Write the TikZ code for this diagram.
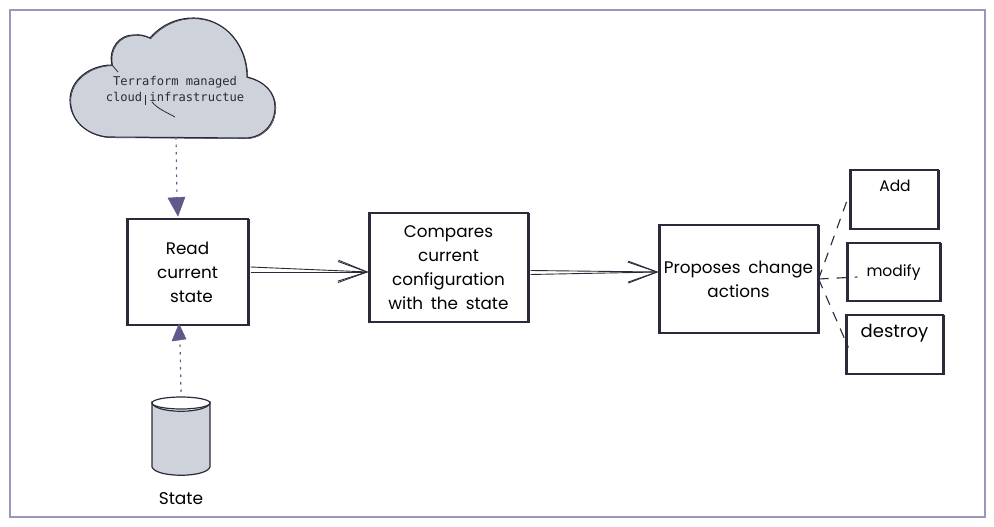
\documentclass[tikz,border=0pt]{standalone}
\usepackage{fontspec}
\setmainfont[WordSpace=1.7]{Poppins}
\newfontfamily\monof{DejaVu Sans Mono}
\usetikzlibrary{arrows.meta,calc}
\definecolor{ink}{HTML}{2B2A3A}
\definecolor{plum}{HTML}{5F5A8C}
\definecolor{framec}{HTML}{9A97BC}
\definecolor{greyfill}{HTML}{CED2DB}
\tikzset{
  x=1pt,y=-1pt,
  overdraw/.style={postaction={draw=ink,line width=.5pt,fill=none,transform canvas={xshift=.8pt,yshift=-.7pt}}},
  sketchbox/.style={draw=ink,line width=1.2pt,fill=white,inner sep=0pt,rectangle,align=center,
    font=\fontsize{16.8}{24}\selectfont,text=black,overdraw},
  hand/.style={inner sep=0pt,align=center,font=\fontsize{16.8}{24}\selectfont,text=black},
  flow/.style={draw=ink,line width=.9pt,-{Straight Barb[length=29pt,width=21pt,line width=.9pt]}},
  dotlink/.style={draw=plum,line width=1.2pt,dash pattern=on 2.5pt off 5pt},
  dashlink/.style={draw=ink,line width=1.1pt,dash pattern=on 10pt off 8pt},
  solidtip/.style={fill=plum,draw=plum,line width=.5pt},
}
\begin{document}
\begin{tikzpicture}
\useasboundingbox (0,0) rectangle (994,527);
\fill[white] (0,0) rectangle (994,527);
\draw[framec,line width=1.5pt] (10,10) rectangle (985,517);

% cloud
\draw[ink,line width=1.1pt,fill=greyfill,overdraw]
  (150,38) .. controls (162,24) and (178,18) .. (193,18)
  .. controls (225,18) and (247,45) .. (247,77)
  .. controls (264,81) and (275,92) .. (275,107)
  .. controls (275,125) and (262,138) .. (245,138)
  -- (108,137)
  .. controls (86,135) and (70,120) .. (70,100)
  .. controls (70,80) and (90,65) .. (112,65)
  .. controls (108,48) and (120,35) .. (133,35)
  .. controls (140,34) and (146,36) .. (150,38) -- cycle;
\draw[ink,line width=.8pt] (112,65) -- (118,72);
\draw[ink,line width=.5pt] (145,95) -- (145,105);
\draw[ink,line width=.8pt] (152,102) .. controls (158,109) and (166,112) .. (175,117);
\node[inner sep=0pt,align=center,font=\monof\fontsize{12.1}{16}\selectfont,text=ink] (cloudlabel) at (175,89)
  {Terraform managed\hspace{7pt}\\ cloud infrastructue};
\coordinate (cloudbot) at (176,137);

% boxes
\node[sketchbox,minimum width=121pt,minimum height=106pt] (read) at (187.5,272) {Read\\ current\\ \hspace{8pt}state};
\node[sketchbox,minimum width=159pt,minimum height=109pt] (compare) at (448.5,267.5) {Compares\\ current\\ configuration\\ with the state};
\node[sketchbox,minimum width=159pt,minimum height=108pt] (propose) at (738.5,279) {Proposes change\\ actions};
\node[sketchbox,minimum width=88pt,minimum height=59pt] (add) at (894,199.5) {};
\node[sketchbox,minimum width=93pt,minimum height=58pt] (modify) at (893.5,272) {};
\node[sketchbox,minimum width=97pt,minimum height=59pt] (destroy) at (894.5,344.5) {};
\node[hand,font=\fontsize{15.5}{24}\selectfont] (addl) at (895,186) {Add};
\node[hand,font=\fontsize{15.5}{24}\selectfont] (modifyl) at (893.5,273) {modify};
\node[hand,font=\fontsize{18}{24}\selectfont] (destroyl) at (894.5,333) {destroy};

% cylinder
\draw[ink,line width=1.2pt,fill=greyfill]
  (152,403) -- (152,467) .. controls (156,478) and (206,478) .. (210,467) -- (210,403)
  .. controls (206,414) and (156,414) .. (152,403) -- cycle;
\draw[ink,line width=1.2pt,fill=white]
  (181,403) ellipse [x radius=29pt,y radius=6pt];
\coordinate (cyltop) at (181,392);
\node[hand,font=\fontsize{17}{20}\selectfont] (statel) at (181,499) {State};

% flow arrows
\draw[flow] ($(read.east)+(2,-5)$) -- ($(compare.west)+(0,4.5)$);
\draw[flow] ($(read.east)+(2,0)$) -- ($(compare.west)+(0,4.5)$);
\draw[flow] ($(compare.east)+(2,3)$) -- ($(propose.west)+(0,-7)$);
\draw[flow] ($(compare.east)+(2,7)$) -- ($(propose.west)+(0,-7)$);

% dotted links
\draw[dotlink] (cloudbot) -- (177,198);
\draw[solidtip] (168,198) -- (185,197) -- (178,216) -- cycle;
\draw[dotlink] (cyltop) -- (180,341);
\draw[solidtip] (172,341) -- (186,339) -- (179,324) -- cycle;

% dashed links
\draw[dashlink] (propose.east) -- ($(add.west)+(2,-11)$);
\draw[dashlink] (propose.east) -- ($(modify.west)+(11,5)$);
\draw[dashlink] (propose.east) -- ($(destroy.west)+(3,3)$);
\end{tikzpicture}
\end{document}
